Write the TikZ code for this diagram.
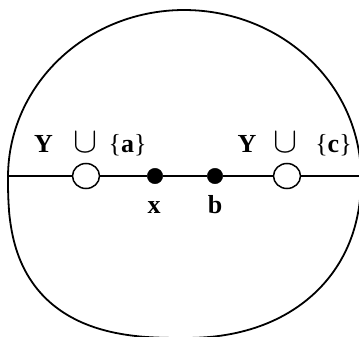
\documentclass[tikz,border=0pt]{standalone}
\usepackage{fontspec}
\setmainfont{Liberation Serif}
\usetikzlibrary{shapes.geometric}
\begin{document}
\begin{tikzpicture}[x=1pt,y=-1pt,
  lbl/.style={inner sep=0pt, anchor=base, font=\fontsize{26}{30}\selectfont\bfseries},
  cupsym/.style={inner sep=0pt, anchor=base, font=\fontsize{26}{30}\selectfont},
  opendot/.style={draw, fill=white, ellipse, line width=1.5pt, minimum width=27pt, minimum height=25pt, inner sep=0pt},
  blackdot/.style={draw, fill=black, circle, minimum size=15.5pt, inner sep=0pt},
  thinline/.style={line width=1.4pt},
  thickline/.style={line width=2.1pt},
  outline/.style={line width=1.8pt, line join=round}]
\useasboundingbox (0,0) rectangle (359,337);
\clip (0,0) rectangle (359,337);
% outline (four quarter arcs, squarer towards the bottom)
\draw[outline]
  plot[domain=0:90, samples=60, variable=\t]
    ({184+177*pow(max(cos(\t),0.00001),0.909)}, {177+161*pow(max(sin(\t),0.00001),0.909)})
  -- plot[domain=0:90, samples=60, variable=\t]
    ({184-176*pow(max(sin(\t),0.00001),0.755)}, {177+161*pow(max(cos(\t),0.00001),0.755)})
  -- plot[domain=0:90, samples=60, variable=\t]
    ({184-176*cos(\t)}, {177-167*sin(\t)})
  -- plot[domain=0:90, samples=60, variable=\t]
    ({184+177*sin(\t)}, {177-167*cos(\t)})
  -- cycle;
% line and points
\coordinate (L) at (8,176);
\coordinate (R) at (365,176);
\node[opendot] (oa) at (86,176) {};
\node[blackdot] (xd) at (155,176) {};
\node[blackdot] (bd) at (215,176) {};
\node[opendot] (oc) at (287,176) {};
\draw[thinline] (L) -- (oa);
\draw[thinline] (oa) -- (xd);
\draw[thickline] (xd) -- (bd);
\draw[thickline] (bd) -- (oc);
\draw[thickline] (oc) -- (R);
% labels
\node[lbl] (ya) at (43.5,152) {Y};
\node[cupsym] (ua) at (86,152) {\scalebox{1.45}{$\cup$}};
\node[lbl] (sa) at (127.5,152) {{\mdseries\{}a{\mdseries\}}};
\node[lbl] (yc) at (247,152) {Y};
\node[cupsym] (uc) at (286,152) {\scalebox{1.45}{$\cup$}};
\node[lbl] (sc) at (333.5,152) {{\mdseries\{}c{\mdseries\}}};
\node[lbl] (xl) at (154,213) {x};
\node[lbl] (bl) at (215,213) {b};
\end{tikzpicture}
\end{document}
